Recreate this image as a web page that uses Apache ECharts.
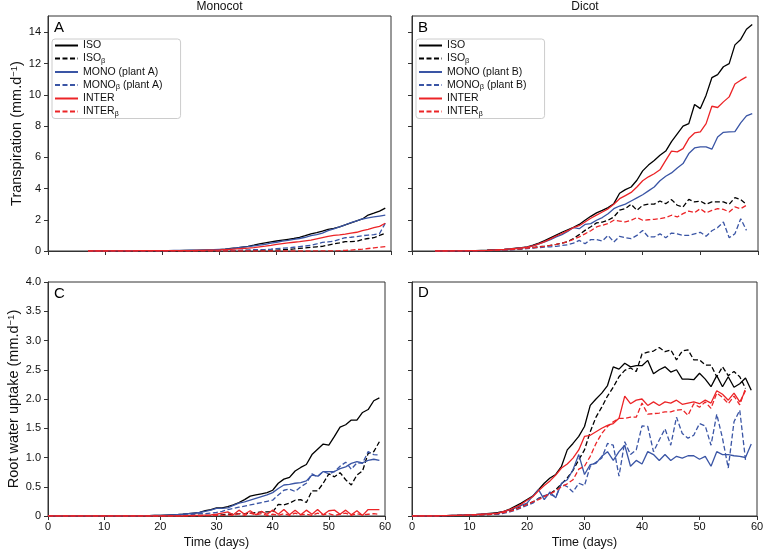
<!DOCTYPE html>
<html><head><meta charset="utf-8">
<script src="https://cdn.jsdelivr.net/npm/echarts@6/dist/echarts.min.js"></script>
<style>html,body{margin:0;padding:0;background:#fff}#c{width:763px;height:552px}</style>
</head><body><div id="c"></div>
<script>
// ---------- data ----------
const DAYS = [0,1,2,3,4,5,6,7,8,9,10,11,12,13,14,15,16,17,18,19,20,21,22,23,24,25,26,27,28,29,
  30,31,32,33,34,35,36,37,38,39,40,41,42,43,44,45,46,47,48,49,50,51,52,53,54,55,56,57,58,59];
const X_TICKS = [0,10,20,30,40,50,60];
const Y_TICKS_TOP = [0,2,4,6,8,10,12,14];
const Y_TICKS_BOTTOM = [0,0.5,1,1.5,2,2.5,3,3.5,4];

const NAMES_A = ['ISO','ISOβ','MONO (plant A)','MONOβ (plant A)','INTER','INTERβ'];
const NAMES_B = ['ISO','ISOβ','MONO (plant B)','MONOβ (plant B)','INTER','INTERβ'];
const PANEL_TITLES = ['Monocot','Dicot'];
const PANEL_LETTERS = ['A','B','C','D'];

// Panel A: Monocot transpiration
const A_ISO = [null,null,null,null,null,null,null,0,0,0,
 0.01,0.01,0.01,0.01,0.01,0.02,0.02,0.02,0.02,0.03,
 0.03,0.03,0.03,0.03,0.04,0.04,0.04,0.05,0.05,0.06,
 0.09,0.12,0.16,0.2,0.25,0.3,0.37,0.45,0.52,0.58,
 0.64,0.7,0.75,0.8,0.87,0.98,1.1,1.18,1.27,1.38,
 1.45,1.55,1.68,1.8,1.93,2.05,2.3,2.42,2.55,2.75];
const A_ISOb = [null,null,null,null,null,null,null,0,0,0,
 0,0,0,0,0,0,0,0,0,0,
 0,0,0,0.01,0.01,0.01,0.01,0.01,0.02,0.02,
 0.02,0.02,0.03,0.03,0.03,0.04,0.04,0.04,0.05,0.05,
 0.06,0.08,0.1,0.13,0.17,0.2,0.24,0.27,0.3,0.38,
 0.45,0.52,0.6,0.6,0.62,0.74,0.8,0.85,1.0,1.13];
const A_MONO = [null,null,null,null,null,null,null,0,0,0,
 0.01,0.01,0.01,0.01,0.02,0.02,0.02,0.02,0.03,0.03,
 0.03,0.03,0.04,0.04,0.04,0.05,0.05,0.06,0.07,0.08,
 0.1,0.12,0.15,0.2,0.25,0.28,0.33,0.38,0.43,0.5,
 0.56,0.63,0.68,0.74,0.8,0.88,0.98,1.05,1.15,1.3,
 1.42,1.55,1.68,1.82,1.93,2.05,2.12,2.18,2.24,2.3];
const A_MONOb = [null,null,null,null,null,null,null,0,0,0,
 0,0,0,0,0,0,0,0,0,0,
 0,0,0.01,0.01,0.01,0.01,0.02,0.02,0.02,0.03,
 0.03,0.03,0.04,0.04,0.05,0.06,0.08,0.09,0.1,0.12,
 0.15,0.18,0.2,0.24,0.28,0.32,0.36,0.45,0.55,0.58,
 0.62,0.75,0.85,0.88,0.92,0.98,1.02,1.05,1.12,1.78];
const A_INTER = [null,null,null,null,null,null,null,0,0,0,
 0,0.01,0.01,0.01,0.01,0.01,0.02,0.02,0.02,0.02,
 0.02,0.02,0.03,0.03,0.03,0.03,0.04,0.04,0.05,0.06,
 0.07,0.09,0.11,0.13,0.16,0.18,0.22,0.27,0.31,0.36,
 0.42,0.47,0.52,0.56,0.6,0.65,0.7,0.78,0.86,0.94,
 1.0,1.03,1.08,1.15,1.2,1.3,1.38,1.5,1.58,1.78];
const A_INTERb = [null,null,null,null,null,null,null,0,0,0,
 0,0,0,0,0,0,0,0,0,0,
 0,0,0,0,0,0,0,0,0,0,
 0,0,0,0,0,0,0,0,0,0,
 0,0,0,0,0,0,0,0.01,0.01,0.01,
 0.01,0.02,0.04,0.06,0.09,0.12,0.16,0.2,0.25,0.28];

// Panel B: Dicot transpiration
const B_ISO = [null,null,null,null,0,0,0,0.01,0.01,0.01,
 0.02,0.03,0.04,0.05,0.07,0.09,0.11,0.14,0.18,0.22,
 0.27,0.37,0.5,0.66,0.84,1.02,1.2,1.36,1.52,1.7,
 1.97,2.22,2.44,2.6,2.78,3.03,3.7,3.93,4.1,4.53,
 5.13,5.5,5.8,6.13,6.4,7.0,7.5,8.0,8.16,9.38,
 9.12,9.98,11.1,11.3,11.8,12.0,13.2,13.55,14.2,14.5];
const B_ISOb = [null,null,null,null,0,0,0,0,0.01,0.01,
 0.01,0.01,0.02,0.03,0.04,0.05,0.07,0.09,0.11,0.14,
 0.18,0.22,0.27,0.31,0.36,0.42,0.5,0.6,0.8,1.05,
 1.32,1.55,1.8,1.85,1.97,2.18,2.61,2.71,2.99,2.61,
 2.93,3.0,3.0,3.2,3.03,3.29,2.93,2.82,3.31,3.14,
 3.2,2.99,3.14,3.14,3.14,2.99,3.42,3.29,2.99,null];
const B_MONO = [null,null,null,null,0,0,0,0.01,0.01,0.01,
 0.02,0.02,0.03,0.04,0.06,0.08,0.1,0.13,0.16,0.2,
 0.24,0.33,0.45,0.58,0.72,0.9,1.05,1.25,1.5,1.43,
 1.7,1.75,1.97,2.14,2.39,2.71,2.88,3.0,3.2,3.4,
 3.6,3.85,4.1,4.5,4.79,5.0,5.32,5.6,6.24,6.6,
 6.67,6.67,6.52,7.3,7.6,7.63,7.65,8.2,8.65,8.8];
const B_MONOb = [null,null,null,null,0,0,0,0,0,0.01,
 0.01,0.01,0.02,0.02,0.03,0.04,0.05,0.07,0.09,0.12,
 0.15,0.18,0.22,0.25,0.27,0.3,0.35,0.4,0.5,0.68,
 0.47,0.73,0.73,0.64,1.0,0.58,0.94,0.85,0.79,1.0,
 1.32,0.9,0.9,1.1,0.85,1.15,1.1,1.0,1.0,1.1,
 1.2,0.95,1.3,1.5,1.86,0.85,1.1,2.07,1.32,null];
const B_INTER = [null,null,null,null,0,0,0,0.01,0.01,0.01,
 0.02,0.02,0.03,0.04,0.06,0.08,0.1,0.13,0.16,0.2,
 0.24,0.33,0.45,0.6,0.78,0.96,1.12,1.3,1.5,1.62,
 1.86,2.1,2.3,2.5,2.7,3.0,3.35,3.55,3.75,4.1,
 4.5,4.75,4.95,5.2,5.8,6.4,6.35,6.56,7.2,7.56,
 7.63,8.16,9.27,9.19,9.55,9.87,10.7,10.94,11.15,null];
const B_INTERb = [null,null,null,null,0,0,0,0,0.01,0.01,
 0.01,0.01,0.02,0.03,0.04,0.05,0.07,0.09,0.11,0.14,
 0.18,0.21,0.25,0.3,0.36,0.42,0.5,0.6,0.75,0.9,
 1.1,1.3,1.54,1.65,1.75,1.97,1.92,1.86,1.97,2.14,
 1.97,2.0,2.03,2.07,2.14,2.29,2.18,2.39,2.56,2.46,
 2.71,2.44,2.6,2.71,2.67,2.5,2.82,2.71,2.93,null];

// Panel C: Monocot root water uptake
const C_ISO = [0,0,0,0,0,0,0,0,0,0,
 0,0,0,0,0,0,0,0.005,0.005,0.01,
 0.01,0.015,0.02,0.025,0.03,0.04,0.05,0.06,0.09,0.11,
 0.14,0.14,0.16,0.19,0.23,0.28,0.34,0.36,0.38,0.4,
 0.44,0.56,0.63,0.66,0.77,0.83,0.88,1.05,1.14,1.23,
 1.21,1.36,1.52,1.56,1.64,1.64,1.77,1.82,1.97,2.02];
const C_ISOb = [0,0,0,0,0,0,0,0,0,0,
 0,0,0,0,0,0,0,0,0,0,
 0,0,0,0,0,0.005,0.005,0.01,0.01,0.01,
 0.015,0.02,0.03,0.03,0.04,0.04,0.05,0.06,0.07,0.07,
 0.07,0.2,0.19,0.22,0.27,0.28,0.23,0.43,0.43,0.56,
 0.72,0.67,0.74,0.62,0.53,0.7,0.77,1.07,1.1,1.27];
const C_MONO = [0,0,0,0,0,0,0,0,0,0,
 0,0,0,0,0,0,0,0.005,0.005,0.01,
 0.01,0.015,0.02,0.025,0.03,0.04,0.05,0.06,0.08,0.1,
 0.13,0.13,0.14,0.18,0.22,0.24,0.27,0.3,0.33,0.36,
 0.4,0.47,0.53,0.54,0.56,0.57,0.6,0.7,0.68,0.76,
 0.76,0.76,0.81,0.84,0.9,0.93,0.91,0.95,0.97,0.95];
const C_MONOb = [0,0,0,0,0,0,0,0,0,0,
 0,0,0,0,0,0,0,0,0,0,
 0,0,0,0.005,0.01,0.02,0.03,0.04,0.04,0.05,
 0.06,0.08,0.11,0.13,0.15,0.17,0.19,0.21,0.23,0.25,
 0.27,0.36,0.44,0.46,0.42,0.5,0.56,0.72,0.67,0.76,
 0.72,0.76,0.85,0.92,0.8,0.91,0.9,1.1,1.05,1.04];
const C_INTER = [0,0,0,0,0,0,0,0,0,0,
 0,0,0,0,0,0,0,0,0,0,
 0,0,0,0,0,0.005,0.01,0.01,0.015,0.02,
 0.03,0.05,0.07,0.02,0.1,0.03,0.09,0.02,0.08,0.03,
 0.1,0.03,0.11,0.02,0.1,0.02,0.1,0.03,0.11,0.02,
 0.09,0.1,0.03,0.1,0.02,0.09,0.01,0.11,0.11,0.11];
const C_INTERb = [0,0,0,0,0,0,0,0,0,0,
 0,0,0,0,0,0,0,0,0,0,
 0,0,0,0,0,0,0,0,0.005,0.005,
 0.01,0.01,0.02,0.01,0.04,0.01,0.05,0.02,0.04,0.01,
 0.03,0.01,0.04,0.01,0.05,0.02,0.03,0.01,0.05,0.02,
 0.04,0.01,0.03,0.05,0.01,0.04,0.02,0.03,0.04,0.03];

// Panel D: Dicot root water uptake
const D_ISO = [0,0,0,0,0,0.005,0.005,0.01,0.01,0.015,
 0.02,0.025,0.03,0.04,0.05,0.06,0.08,0.12,0.17,0.22,
 0.28,0.34,0.45,0.56,0.65,0.71,0.85,1.13,1.24,1.36,
 1.53,1.89,2.0,2.1,2.23,2.55,2.51,2.61,2.55,2.57,
 2.57,2.66,2.43,2.5,2.55,2.46,2.5,2.34,2.34,2.33,
 2.44,2.34,2.21,2.4,2.21,2.38,2.2,2.26,2.36,2.15];
const D_ISOb = [0,0,0,0,0,0,0.005,0.005,0.01,0.01,
 0.015,0.02,0.02,0.025,0.03,0.04,0.06,0.09,0.12,0.16,
 0.2,0.24,0.3,0.34,0.38,0.45,0.55,0.65,0.78,0.96,
 1.13,1.44,1.69,1.86,2.05,2.2,2.38,2.49,2.53,2.47,
 2.77,2.8,2.82,2.88,2.81,2.84,2.67,2.82,2.84,2.67,
 2.67,2.58,2.58,2.38,2.55,2.4,2.47,2.38,2.18,null];
const D_MONO = [0,0,0,0,0,0.005,0.005,0.01,0.01,0.015,
 0.02,0.025,0.03,0.035,0.04,0.05,0.08,0.1,0.14,0.18,
 0.22,0.34,0.45,0.28,0.41,0.31,0.56,0.62,0.79,1.05,
 0.71,0.88,0.9,1.02,1.1,0.95,1.1,1.21,0.85,0.95,
 0.89,1.1,1.05,0.95,1.05,0.95,1.02,0.99,1.03,1.03,
 0.97,1.02,0.85,1.1,1.05,1.05,1.03,1.02,1.0,1.23];
const D_MONOb = [0,0,0,0,0,0,0.005,0.005,0.01,0.01,
 0.015,0.02,0.02,0.025,0.03,0.03,0.05,0.07,0.1,0.14,
 0.18,0.22,0.3,0.35,0.37,0.33,0.55,0.5,0.41,0.56,
 0.52,0.85,0.92,0.99,1.24,1.21,0.68,1.27,1.05,1.13,
 1.54,1.53,1.1,1.3,1.49,1.21,1.69,1.41,1.33,1.38,
 1.58,1.54,1.21,1.74,1.33,0.82,1.61,1.81,0.96,null];
const D_INTER = [0,0,0,0,0,0.005,0.005,0.01,0.01,0.015,
 0.02,0.025,0.03,0.035,0.04,0.05,0.08,0.11,0.15,0.2,
 0.27,0.33,0.43,0.52,0.6,0.7,0.82,0.89,0.99,1.13,
 1.36,1.38,1.44,1.5,1.55,1.58,1.67,2.05,1.92,1.98,
 2.0,1.89,1.95,1.89,1.95,1.93,1.98,1.91,1.93,1.95,
 1.92,1.98,1.93,2.14,2.08,1.98,2.1,1.95,2.14,null];
const D_INTERb = [0,0,0,0,0,0,0.005,0.005,0.01,0.01,
 0.015,0.02,0.02,0.025,0.03,0.04,0.06,0.08,0.11,0.15,
 0.2,0.24,0.28,0.33,0.38,0.43,0.5,0.55,0.62,0.8,
 0.85,1.02,1.24,1.41,1.53,1.61,1.67,1.67,1.69,1.69,
 1.93,1.74,1.75,1.76,1.78,1.78,1.81,1.82,1.72,1.92,
 1.86,1.95,1.84,2.1,2.03,1.92,2.05,1.9,2.18,null];

// ---------- styling ----------
const FONT = '"Liberation Sans", Arial, Helvetica, sans-serif';
const TXT = '#111';
const AXC = '#333';
const COLORS = ['#000000','#000000','#3a55a5','#3a55a5','#ec2427','#ec2427'];
const DASHED = [false,true,false,true,false,true];
const DASH = [5,2.5];

const PANELS = [
  {names:NAMES_A, data:[A_ISO,A_ISOb,A_MONO,A_MONOb,A_INTER,A_INTERb]},
  {names:NAMES_B, data:[B_ISO,B_ISOb,B_MONO,B_MONOb,B_INTER,B_INTERb]},
  {names:NAMES_A, data:[C_ISO,C_ISOb,C_MONO,C_MONOb,C_INTER,C_INTERb]},
  {names:NAMES_B, data:[D_ISO,D_ISOb,D_MONO,D_MONOb,D_INTER,D_INTERb]}
];

const GRIDS = [
  {left:48, top:16, width:343, height:235},
  {left:412, top:16, width:346, height:235},
  {left:48, top:282, width:337, height:234},
  {left:412, top:282, width:345, height:234}
];

function pairs(arr){
  const out = [];
  arr.forEach((v,i)=>{ if (v !== null) out.push([DAYS[i], v]); });
  return out;
}

const series = [];
PANELS.forEach((p, gi) => {
  p.data.forEach((arr, k) => {
    series.push({
      type:'line', name:p.names[k], xAxisIndex:gi, yAxisIndex:gi,
      data:pairs(arr), symbol:'none', silent:true, animation:false,
      lineStyle:{color:COLORS[k], width:1.3, type: DASHED[k] ? DASH : 'solid'},
      itemStyle:{color:COLORS[k]}
    });
  });
});

function richName(name){
  const parts = name.split('β');
  if (parts.length === 1) return '{n|' + name + '}';
  let s = '{n|' + parts[0] + '}{sub|β}';
  if (parts[1]) s += '{n|' + parts[1] + '}';
  return s;
}

const legendBase = {
  orient:'vertical', top:39, itemWidth:23, itemHeight:8, itemGap:2.0,
  padding:[1,18,1,2], borderColor:'#cccccc', borderWidth:1, borderRadius:3,
  backgroundColor:'rgba(255,255,255,0.8)', selectedMode:false,
  itemStyle:{opacity:0},
  formatter: richName,
  textStyle:{fontFamily:FONT, fontSize:10.5, color:TXT,
    rich:{
      n:{fontFamily:FONT, fontSize:10.5, lineHeight:12, color:TXT},
      sub:{fontFamily:FONT, fontSize:7.5, lineHeight:6, verticalAlign:'bottom', color:TXT}
    }}
};

const xAxes = GRIDS.map((g, i) => ({
  type:'value', gridIndex:i, min:0, max:60, interval:10,
  axisLine:{show:true, onZero:false, lineStyle:{color:AXC, width:1}},
  axisTick:{show:true, inside:false, length:4, lineStyle:{color:AXC}},
  splitLine:{show:false},
  axisLabel:{show:i >= 2, fontFamily:FONT, fontSize:11, color:TXT, margin:5,
             customValues:X_TICKS},
  name: i >= 2 ? 'Time (days)' : '',
  nameLocation:'middle', nameGap:20,
  nameTextStyle:{fontFamily:FONT, fontSize:12.5, color:TXT}
}));

const yName = base => '{n|' + base + ' (mm.d}{sup|−1}{n|)}';
const yRich = {
  n:{fontFamily:FONT, fontSize:14.5, lineHeight:16, color:TXT},
  sup:{fontFamily:FONT, fontSize:9.5, lineHeight:8, verticalAlign:'top', color:TXT}
};

const yAxes = GRIDS.map((g, i) => {
  const top = i < 2;
  return {
    type:'value', gridIndex:i, min:0, max: top ? 15.05 : 4,
    interval: top ? 2 : 0.5,
    axisLine:{show:true, onZero:false, lineStyle:{color:AXC, width:1}},
    axisTick:{show:true, inside:false, length:4, lineStyle:{color:AXC},
              customValues: top ? Y_TICKS_TOP : Y_TICKS_BOTTOM},
    splitLine:{show:false},
    axisLabel:{show: i % 2 === 0, fontFamily:FONT, fontSize:11, color:TXT, margin:7,
      customValues: top ? Y_TICKS_TOP : Y_TICKS_BOTTOM,
      formatter: v => top ? String(v) : (v === 0 ? '0' : v.toFixed(1))},
    name: i === 0 ? yName('Transpiration') : (i === 2 ? yName('Root water uptake') : ''),
    nameLocation:'middle', nameGap: top ? 18 : 24, nameRotate:90,
    nameTextStyle:{fontFamily:FONT, fontSize:14.5, color:TXT, rich:yRich}
  };
});

const graphics = [
  {type:'text', x:219.5, y:7, style:{text:PANEL_TITLES[0], font:'12px ' + FONT, fill:TXT, textAlign:'center', textVerticalAlign:'middle'}},
  {type:'text', x:585, y:7, style:{text:PANEL_TITLES[1], font:'12px ' + FONT, fill:TXT, textAlign:'center', textVerticalAlign:'middle'}}
];
const letterPos = [[54,28],[418,28],[54,294],[418,293]];
PANEL_LETTERS.forEach((L, i) => {
  graphics.push({type:'text', x:letterPos[i][0], y:letterPos[i][1], z:10,
    style:{text:L, font:'15px ' + FONT, fill:'#000', textAlign:'left', textVerticalAlign:'middle'}});
});

const chart = echarts.init(document.getElementById('c'), null, {renderer:'canvas'});
chart.setOption({
  animation:false,
  backgroundColor:'#ffffff',
  grid: GRIDS.map(g => Object.assign({show:true, borderColor:AXC, borderWidth:1,
        backgroundColor:'transparent', containLabel:false, outerBoundsMode:'none'}, g)),
  xAxis: xAxes,
  yAxis: yAxes,
  legend: [
    Object.assign({}, legendBase, {left:52, data:NAMES_A}),
    Object.assign({}, legendBase, {left:416, data:NAMES_B})
  ],
  graphic: graphics,
  series: series
});
</script>
</body></html>
